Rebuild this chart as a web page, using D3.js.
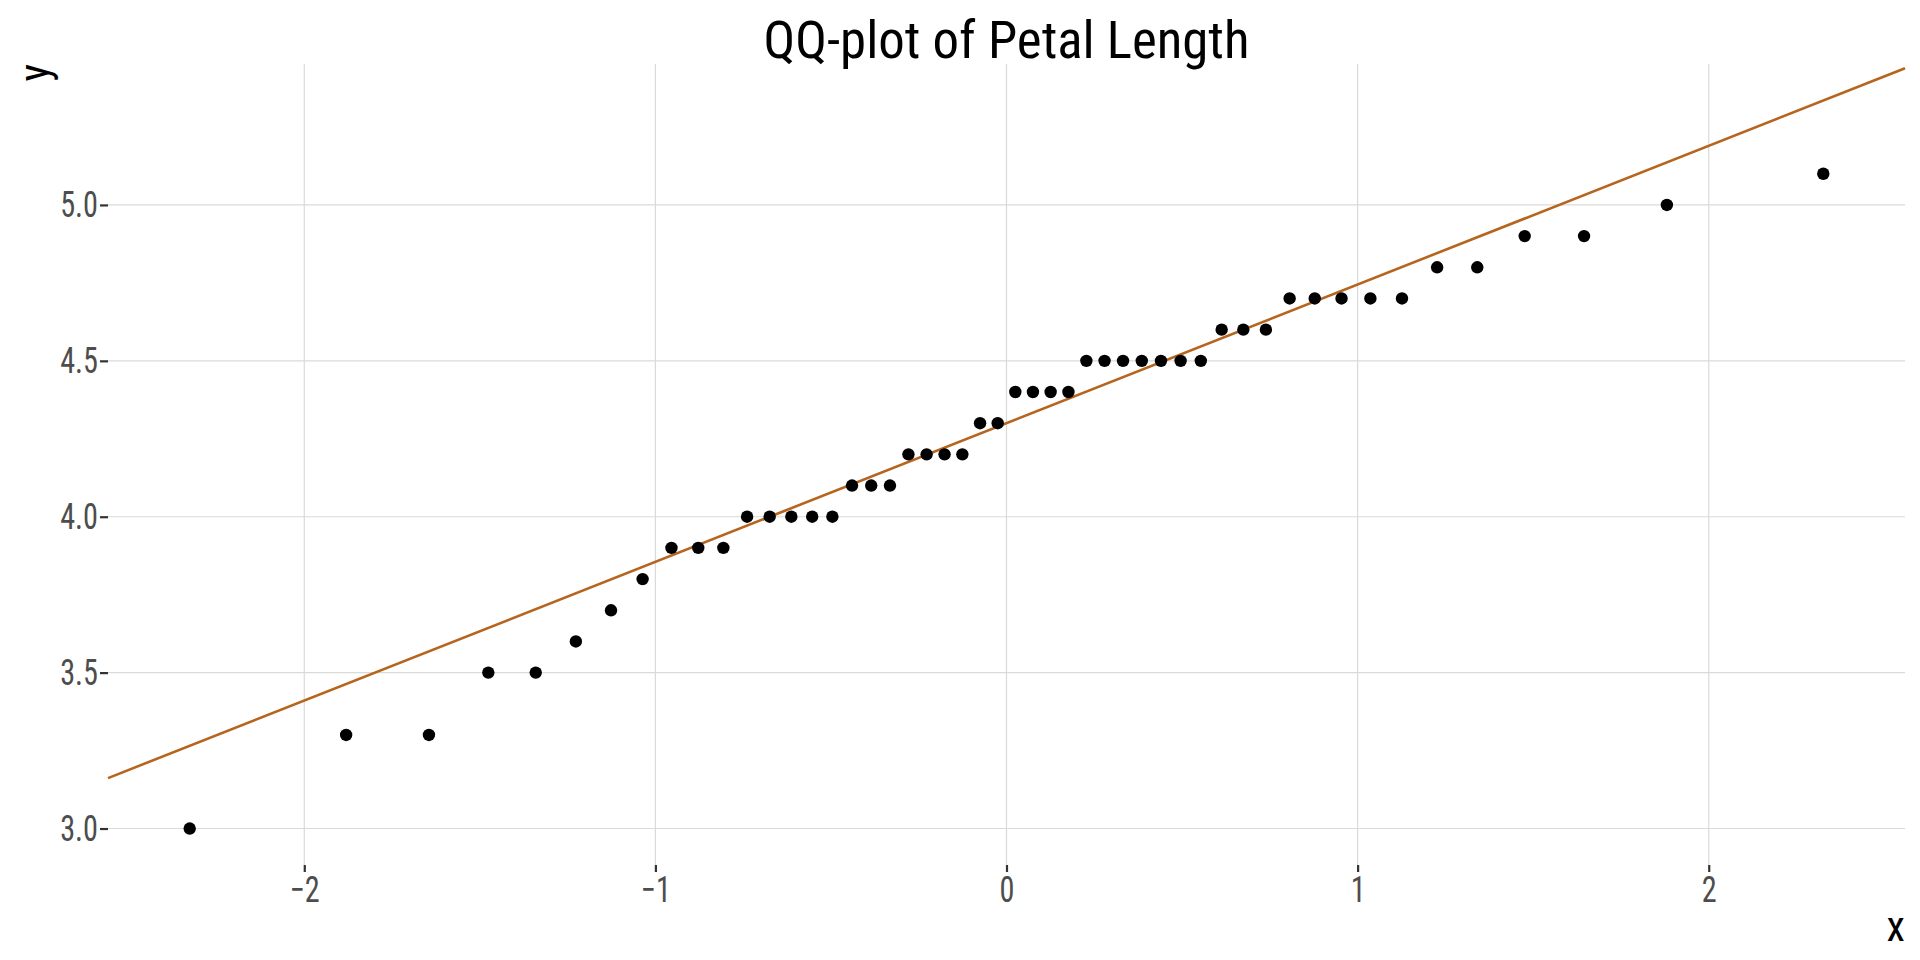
<!DOCTYPE html>
<html>
<head>
<meta charset="utf-8">
<script src="https://cdn.jsdelivr.net/npm/d3@7"></script>
<style>
  html, body { margin: 0; padding: 0; background: #ffffff; }
  svg { display: block; }
  text { font-family: "Roboto Condensed", "Roboto", "Liberation Sans Narrow", sans-serif; }
</style>
</head>
<body>
<svg id="chart" width="1920" height="960"></svg>
<script>
// ---- Data ----
const titleText = "QQ-plot of Petal Length";
const xTitle = "x";
const yTitle = "y";

// theoretical normal quantiles (x axis)
const theoretical = [
  -2.3263, -1.8808, -1.6449, -1.4758, -1.3408, -1.2265, -1.1264, -1.0364, -0.9542, -0.8779,
  -0.8064, -0.7388, -0.6745, -0.6128, -0.5534, -0.4959, -0.4399, -0.3853, -0.3319, -0.2793,
  -0.2275, -0.1764, -0.1257, -0.0753, -0.0251,  0.0251,  0.0753,  0.1257,  0.1764,  0.2275,
   0.2793,  0.3319,  0.3853,  0.4399,  0.4959,  0.5534,  0.6128,  0.6745,  0.7388,  0.8064,
   0.8779,  0.9542,  1.0364,  1.1264,  1.2265,  1.3408,  1.4758,  1.6449,  1.8808,  2.3263
];
// sample values (y axis, sorted petal lengths)
const sample = [
  3.0, 3.3, 3.3, 3.5, 3.5, 3.6, 3.7, 3.8, 3.9, 3.9,
  3.9, 4.0, 4.0, 4.0, 4.0, 4.0, 4.1, 4.1, 4.1, 4.2,
  4.2, 4.2, 4.2, 4.3, 4.3, 4.4, 4.4, 4.4, 4.4, 4.5,
  4.5, 4.5, 4.5, 4.5, 4.5, 4.5, 4.6, 4.6, 4.6, 4.7,
  4.7, 4.7, 4.7, 4.7, 4.8, 4.8, 4.9, 4.9, 5.0, 5.1
];
// reference line (through the quartiles)
const lineIntercept = 4.3;
const lineSlope = 0.4448;

const xTicks = [-2, -1, 0, 1, 2];
const yTicks = [3.0, 3.5, 4.0, 4.5, 5.0];
const xDomain = [-2.559, 2.559];
const yDomain = [2.883, 5.452];

// ---- Layout ----
const W = 1920, H = 960;
const margin = { left: 108, right: 15, top: 64, bottom: 95 };
const svg = d3.select("#chart");

const x = d3.scaleLinear().domain(xDomain).range([margin.left, W - margin.right]);
const y = d3.scaleLinear().domain(yDomain).range([H - margin.bottom, margin.top]);

function condense(sel, f) {
  sel.each(function () {
    const len = this.getComputedTextLength();
    d3.select(this).attr("textLength", len * f).attr("lengthAdjust", "spacingAndGlyphs");
  });
}

// grid
const grid = svg.append("g");
grid.selectAll("line.gy").data(yTicks).join("line")
  .attr("x1", margin.left).attr("x2", W - margin.right)
  .attr("y1", d => y(d)).attr("y2", d => y(d))
  .attr("stroke", "#dadada").attr("stroke-width", 1.2);
grid.selectAll("line.gx").data(xTicks).join("line")
  .attr("y1", margin.top).attr("y2", H - margin.bottom)
  .attr("x1", d => x(d)).attr("x2", d => x(d))
  .attr("stroke", "#dadada").attr("stroke-width", 1.2);

// axes
const xAxis = svg.append("g")
  .attr("transform", `translate(0,${H - margin.bottom})`)
  .call(d3.axisBottom(x).tickValues(xTicks).tickFormat(d3.format("d")).tickSize(7).tickPadding(4));
const yAxis = svg.append("g")
  .attr("transform", `translate(${margin.left},0)`)
  .call(d3.axisLeft(y).tickValues(yTicks).tickFormat(d3.format(".1f")).tickSize(8).tickPadding(2));
[xAxis, yAxis].forEach(a => {
  a.select(".domain").remove();
  a.selectAll(".tick line").attr("stroke", "#333333").attr("stroke-width", 2.2);
  a.selectAll(".tick text").attr("fill", "#4d4d4d").attr("font-size", 36)
    .attr("font-family", "'Roboto Condensed', Roboto, sans-serif");
});
xAxis.selectAll(".tick text").attr("dy", "0.72em");
condense(xAxis.selectAll(".tick text"), 0.84);
condense(yAxis.selectAll(".tick text"), 0.84);

// reference line
svg.append("line")
  .attr("x1", x(xDomain[0])).attr("y1", y(lineIntercept + lineSlope * xDomain[0]))
  .attr("x2", x(xDomain[1])).attr("y2", y(lineIntercept + lineSlope * xDomain[1]))
  .attr("stroke", "#b5651d").attr("stroke-width", 2.6);

// points
svg.append("g").selectAll("circle")
  .data(theoretical.map((t, i) => ({ t, s: sample[i] })))
  .join("circle")
  .attr("cx", d => x(d.t)).attr("cy", d => y(d.s)).attr("r", 6.2)
  .attr("fill", "#000000");

// titles
const title = svg.append("text")
  .attr("x", (margin.left + W - margin.right) / 2).attr("y", 57.5)
  .attr("text-anchor", "middle").attr("font-size", 51).attr("fill", "#000")
  .text(titleText);
title.attr("textLength", 486).attr("lengthAdjust", "spacingAndGlyphs");

const xt = svg.append("text")
  .attr("x", W - margin.right).attr("y", 941)
  .attr("text-anchor", "end").attr("font-size", 42).attr("fill", "#000")
  .text(xTitle);

svg.append("text")
  .attr("transform", `translate(49,${margin.top}) rotate(-90)`)
  .attr("text-anchor", "end").attr("font-size", 42).attr("fill", "#000")
  .text(yTitle);
</script>
</body>
</html>
